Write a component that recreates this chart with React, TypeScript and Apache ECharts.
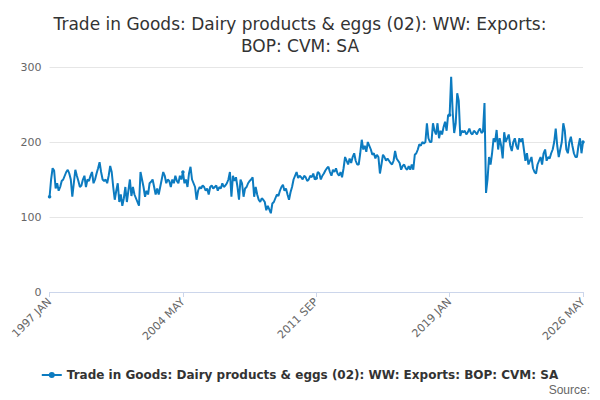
import React, { useEffect, useRef } from "react";
import * as echarts from "echarts";

const months = ["JAN", "FEB", "MAR", "APR", "MAY", "JUN", "JUL", "AUG", "SEP", "OCT", "NOV", "DEC"];
const startYear = 1997;

const y1997 = [127, 150, 165, 162, 138, 145, 135, 140, 148, 150, 155, 160];
const y1998 = [163, 158, 150, 127, 145, 163, 155, 148, 140, 142, 150, 155];
const y1999 = [140, 150, 148, 155, 160, 145, 150, 158, 165, 173, 160, 150];
const y2000 = [148, 150, 145, 155, 168, 160, 140, 123, 135, 145, 120, 130];
const y2001 = [115, 125, 140, 120, 135, 150, 128, 140, 130, 125, 120, 115];
const y2002 = [160, 150, 140, 127, 135, 130, 145, 147, 150, 140, 130, 138];
const y2003 = [130, 140, 150, 160, 155, 145, 150, 148, 140, 150, 145, 155];
const y2004 = [148, 145, 155, 150, 160, 145, 150, 140, 158, 167, 150, 145];
const y2005 = [140, 123, 135, 140, 138, 142, 140, 135, 138, 130, 140, 142];
const y2006 = [138, 140, 142, 135, 140, 138, 145, 140, 142, 145, 150, 160];
const y2007 = [127, 155, 148, 153, 140, 123, 150, 145, 127, 138, 140, 145];
const y2008 = [148, 150, 153, 127, 140, 130, 123, 120, 125, 123, 120, 109];
const y2009 = [115, 110, 105, 118, 120, 125, 130, 128, 135, 140, 143, 135];
const y2010 = [138, 130, 123, 133, 140, 150, 155, 160, 152, 155, 153, 150];
const y2011 = [155, 153, 148, 150, 155, 153, 158, 150, 152, 160, 158, 150];
const y2012 = [155, 158, 162, 165, 167, 160, 155, 163, 160, 165, 158, 155];
const y2013 = [160, 153, 165, 180, 175, 170, 178, 172, 180, 185, 175, 170];
const y2014 = [170, 185, 203, 190, 195, 187, 200, 195, 190, 183, 185, 178];
const y2015 = [183, 180, 158, 170, 183, 180, 175, 178, 175, 172, 170, 175];
const y2016 = [188, 178, 175, 172, 163, 168, 170, 165, 163, 168, 163, 170];
const y2017 = [163, 183, 185, 190, 197, 195, 200, 198, 200, 225, 205, 200];
const y2018 = [200, 225, 215, 210, 225, 205, 215, 210, 220, 227, 215, 236];
const y2019 = [236, 287, 240, 212, 225, 265, 255, 208, 215, 213, 215, 210];
const y2020 = [213, 218, 212, 210, 215, 213, 210, 215, 218, 212, 214, 252];
const y2021 = [132, 150, 180, 170, 185, 205, 200, 216, 190, 205, 195, 178];
const y2022 = [213, 200, 205, 210, 195, 188, 200, 205, 195, 190, 205, 200];
const y2023 = [205, 190, 175, 185, 170, 175, 180, 165, 160, 158, 170, 175];
const y2024 = [180, 170, 185, 190, 175, 180, 178, 185, 190, 200, 218, 195];
const y2025 = [180, 190, 200, 225, 215, 190, 185, 200, 207, 195, 185, 180];
const y2026 = [180, 195, 205, 185, 200];

const values = [
  ...y1997, ...y1998, ...y1999, ...y2000, ...y2001, ...y2002, ...y2003, ...y2004,
  ...y2005, ...y2006, ...y2007, ...y2008, ...y2009, ...y2010, ...y2011, ...y2012,
  ...y2013, ...y2014, ...y2015, ...y2016, ...y2017, ...y2018, ...y2019, ...y2020,
  ...y2021, ...y2022, ...y2023, ...y2024, ...y2025, ...y2026,
];
const categories = values.map((_, i) => `${startYear + Math.floor(i / 12)} ${months[i % 12]}`);

const seriesName = "Trade in Goods: Dairy products & eggs (02): WW: Exports: BOP: CVM: SA";

const App = () => {
  const chartRef = useRef(null);

  useEffect(() => {
    const chart = echarts.init(chartRef.current, null, { renderer: "svg" });
    chart.setOption({
      animation: false,
      textStyle: { fontFamily: "DejaVu Sans" },
      title: {
        text: "Trade in Goods: Dairy products & eggs (02): WW: Exports:\nBOP: CVM: SA",
        left: "center",
        top: 0,
        textStyle: { fontSize: 17, fontWeight: "normal", color: "#333", lineHeight: 22 },
      },
      grid: { left: 38, right: 9, top: 59, bottom: 108 },
      xAxis: {
        type: "category",
        data: categories,
        boundaryGap: false,
        axisLine: { lineStyle: { color: "#ccd6eb" } },
        axisTick: { show: true, interval: 87, lineStyle: { color: "#ccd6eb" } },
        axisLabel: { interval: 87, rotate: 45, color: "#666", fontSize: 11 },
      },
      yAxis: {
        type: "value",
        min: 0,
        max: 300,
        interval: 100,
        axisLabel: { color: "#666", fontSize: 11 },
        splitLine: { lineStyle: { color: "#e6e6e6" } },
      },
      legend: {
        bottom: 14,
        left: "center",
        itemWidth: 20,
        textStyle: { fontWeight: "bold", color: "#333", fontSize: 12 },
        data: [{ name: seriesName, icon: "path://M0,4 L20,4 L20,6 L0,6 Z M10,2 A3,3 0 1 1 10,8 A3,3 0 1 1 10,2 Z" }],
      },
      graphic: [
        { type: "text", right: 2, bottom: 4, style: { text: "Source:", fill: "#666", fontSize: 12 } },
      ],
      series: [
        {
          name: seriesName,
          type: "line",
          data: values,
          color: "#0c7bc0",
          symbol: "circle",
          symbolSize: 3.5,
          lineStyle: { width: 2 },
        },
      ],
    });
    return () => {
      chart.dispose();
    };
  }, []);

  return <div ref={chartRef} style={{ width: "584px", height: "392px" }}></div>;
};

export default App;
